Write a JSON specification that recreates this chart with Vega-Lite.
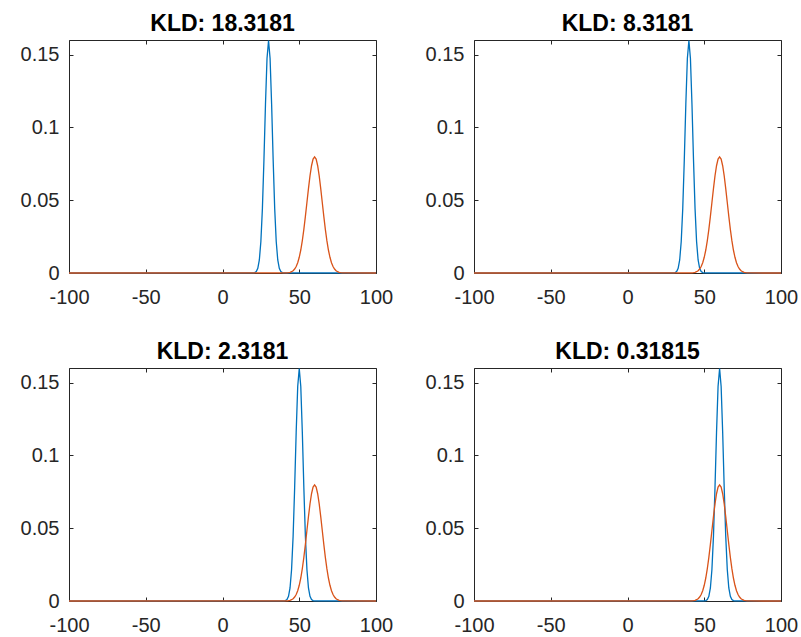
{
  "$schema": "https://vega.github.io/schema/vega-lite/v6.json",
  "background": "white",
  "padding": {"left": 19, "top": 12, "right": 0, "bottom": 0},
  "autosize": {"type": "pad"},
  "bounds": "flush",
  "columns": 2,
  "spacing": {"row": 95, "column": 98},
  "datasets": {
    "orange": [
      {"x": -100, "y": 0},
      {"x": 40, "y": 0.000027}, {"x": 41, "y": 0.000058}, {"x": 42, "y": 0.000122}, {"x": 43, "y": 0.000246},
      {"x": 44, "y": 0.000477}, {"x": 45, "y": 0.000886}, {"x": 46, "y": 0.001583}, {"x": 47, "y": 0.002717},
      {"x": 48, "y": 0.004479}, {"x": 49, "y": 0.007095}, {"x": 50, "y": 0.010798}, {"x": 51, "y": 0.015790},
      {"x": 52, "y": 0.022184}, {"x": 53, "y": 0.029945}, {"x": 54, "y": 0.038837}, {"x": 55, "y": 0.048394},
      {"x": 56, "y": 0.057938}, {"x": 57, "y": 0.066645}, {"x": 58, "y": 0.073654}, {"x": 59, "y": 0.078209},
      {"x": 60, "y": 0.079788},
      {"x": 61, "y": 0.078209}, {"x": 62, "y": 0.073654}, {"x": 63, "y": 0.066645}, {"x": 64, "y": 0.057938},
      {"x": 65, "y": 0.048394}, {"x": 66, "y": 0.038837}, {"x": 67, "y": 0.029945}, {"x": 68, "y": 0.022184},
      {"x": 69, "y": 0.015790}, {"x": 70, "y": 0.010798}, {"x": 71, "y": 0.007095}, {"x": 72, "y": 0.004479},
      {"x": 73, "y": 0.002717}, {"x": 74, "y": 0.001583}, {"x": 75, "y": 0.000886}, {"x": 76, "y": 0.000477},
      {"x": 77, "y": 0.000246}, {"x": 78, "y": 0.000122}, {"x": 79, "y": 0.000058}, {"x": 80, "y": 0.000027},
      {"x": 100, "y": 0}
    ],
    "b30": [
      {"x": -100, "y": 0},
      {"x": 20, "y": 0.000053}, {"x": 21, "y": 0.000245}, {"x": 22, "y": 0.000954}, {"x": 23, "y": 0.003166},
      {"x": 24, "y": 0.008958}, {"x": 25, "y": 0.021596}, {"x": 26, "y": 0.044368}, {"x": 27, "y": 0.077674},
      {"x": 28, "y": 0.115877}, {"x": 29, "y": 0.147308}, {"x": 30, "y": 0.159577}, {"x": 31, "y": 0.147308},
      {"x": 32, "y": 0.115877}, {"x": 33, "y": 0.077674}, {"x": 34, "y": 0.044368}, {"x": 35, "y": 0.021596},
      {"x": 36, "y": 0.008958}, {"x": 37, "y": 0.003166}, {"x": 38, "y": 0.000954}, {"x": 39, "y": 0.000245},
      {"x": 40, "y": 0.000053},
      {"x": 100, "y": 0}
    ],
    "b40": [
      {"x": -100, "y": 0},
      {"x": 30, "y": 0.000053}, {"x": 31, "y": 0.000245}, {"x": 32, "y": 0.000954}, {"x": 33, "y": 0.003166},
      {"x": 34, "y": 0.008958}, {"x": 35, "y": 0.021596}, {"x": 36, "y": 0.044368}, {"x": 37, "y": 0.077674},
      {"x": 38, "y": 0.115877}, {"x": 39, "y": 0.147308}, {"x": 40, "y": 0.159577}, {"x": 41, "y": 0.147308},
      {"x": 42, "y": 0.115877}, {"x": 43, "y": 0.077674}, {"x": 44, "y": 0.044368}, {"x": 45, "y": 0.021596},
      {"x": 46, "y": 0.008958}, {"x": 47, "y": 0.003166}, {"x": 48, "y": 0.000954}, {"x": 49, "y": 0.000245},
      {"x": 50, "y": 0.000053},
      {"x": 100, "y": 0}
    ],
    "b50": [
      {"x": -100, "y": 0},
      {"x": 40, "y": 0.000053}, {"x": 41, "y": 0.000245}, {"x": 42, "y": 0.000954}, {"x": 43, "y": 0.003166},
      {"x": 44, "y": 0.008958}, {"x": 45, "y": 0.021596}, {"x": 46, "y": 0.044368}, {"x": 47, "y": 0.077674},
      {"x": 48, "y": 0.115877}, {"x": 49, "y": 0.147308}, {"x": 50, "y": 0.159577}, {"x": 51, "y": 0.147308},
      {"x": 52, "y": 0.115877}, {"x": 53, "y": 0.077674}, {"x": 54, "y": 0.044368}, {"x": 55, "y": 0.021596},
      {"x": 56, "y": 0.008958}, {"x": 57, "y": 0.003166}, {"x": 58, "y": 0.000954}, {"x": 59, "y": 0.000245},
      {"x": 60, "y": 0.000053},
      {"x": 100, "y": 0}
    ],
    "b60": [
      {"x": -100, "y": 0},
      {"x": 50, "y": 0.000053}, {"x": 51, "y": 0.000245}, {"x": 52, "y": 0.000954}, {"x": 53, "y": 0.003166},
      {"x": 54, "y": 0.008958}, {"x": 55, "y": 0.021596}, {"x": 56, "y": 0.044368}, {"x": 57, "y": 0.077674},
      {"x": 58, "y": 0.115877}, {"x": 59, "y": 0.147308}, {"x": 60, "y": 0.159577}, {"x": 61, "y": 0.147308},
      {"x": 62, "y": 0.115877}, {"x": 63, "y": 0.077674}, {"x": 64, "y": 0.044368}, {"x": 65, "y": 0.021596},
      {"x": 66, "y": 0.008958}, {"x": 67, "y": 0.003166}, {"x": 68, "y": 0.000954}, {"x": 69, "y": 0.000245},
      {"x": 70, "y": 0.000053},
      {"x": 100, "y": 0}
    ]
  },
  "concat": [
    {
      "width": 307, "height": 233,
      "title": {"text": "KLD: 18.3181"},
      "resolve": {"axis": {"x": "independent", "y": "independent"}},
      "layer": [
        {"data": {"name": "b30"}, "mark": {"type": "line", "color": "#0072BD", "strokeWidth": 1.3},
         "encoding": {
           "x": {"field": "x", "type": "quantitative", "scale": {"domain": [-100, 100], "nice": false, "zero": false}, "axis": {"orient": "bottom", "values": [-100, -50, 0, 50, 100], "labelExpr": "'' + datum.value", "title": null}},
           "y": {"field": "y", "type": "quantitative", "scale": {"domain": [0, 0.16], "nice": false}, "axis": {"orient": "left", "values": [0, 0.05, 0.1, 0.15], "labelExpr": "'' + datum.value", "title": null}}}},
        {"data": {"name": "orange"}, "mark": {"type": "line", "color": "#D95319", "strokeWidth": 1.3},
         "encoding": {
           "x": {"field": "x", "type": "quantitative", "axis": {"orient": "top", "values": [-100, -50, 0, 50, 100], "labels": false, "title": null}},
           "y": {"field": "y", "type": "quantitative", "axis": {"orient": "right", "values": [0, 0.05, 0.1, 0.15], "labels": false, "title": null}}}}
      ]
    },
    {
      "width": 307, "height": 233,
      "title": {"text": "KLD: 8.3181"},
      "resolve": {"axis": {"x": "independent", "y": "independent"}},
      "layer": [
        {"data": {"name": "b40"}, "mark": {"type": "line", "color": "#0072BD", "strokeWidth": 1.3},
         "encoding": {
           "x": {"field": "x", "type": "quantitative", "scale": {"domain": [-100, 100], "nice": false, "zero": false}, "axis": {"orient": "bottom", "values": [-100, -50, 0, 50, 100], "labelExpr": "'' + datum.value", "title": null}},
           "y": {"field": "y", "type": "quantitative", "scale": {"domain": [0, 0.16], "nice": false}, "axis": {"orient": "left", "values": [0, 0.05, 0.1, 0.15], "labelExpr": "'' + datum.value", "title": null}}}},
        {"data": {"name": "orange"}, "mark": {"type": "line", "color": "#D95319", "strokeWidth": 1.3},
         "encoding": {
           "x": {"field": "x", "type": "quantitative", "axis": {"orient": "top", "values": [-100, -50, 0, 50, 100], "labels": false, "title": null}},
           "y": {"field": "y", "type": "quantitative", "axis": {"orient": "right", "values": [0, 0.05, 0.1, 0.15], "labels": false, "title": null}}}}
      ]
    },
    {
      "width": 307, "height": 233,
      "title": {"text": "KLD: 2.3181"},
      "resolve": {"axis": {"x": "independent", "y": "independent"}},
      "layer": [
        {"data": {"name": "b50"}, "mark": {"type": "line", "color": "#0072BD", "strokeWidth": 1.3},
         "encoding": {
           "x": {"field": "x", "type": "quantitative", "scale": {"domain": [-100, 100], "nice": false, "zero": false}, "axis": {"orient": "bottom", "values": [-100, -50, 0, 50, 100], "labelExpr": "'' + datum.value", "title": null}},
           "y": {"field": "y", "type": "quantitative", "scale": {"domain": [0, 0.16], "nice": false}, "axis": {"orient": "left", "values": [0, 0.05, 0.1, 0.15], "labelExpr": "'' + datum.value", "title": null}}}},
        {"data": {"name": "orange"}, "mark": {"type": "line", "color": "#D95319", "strokeWidth": 1.3},
         "encoding": {
           "x": {"field": "x", "type": "quantitative", "axis": {"orient": "top", "values": [-100, -50, 0, 50, 100], "labels": false, "title": null}},
           "y": {"field": "y", "type": "quantitative", "axis": {"orient": "right", "values": [0, 0.05, 0.1, 0.15], "labels": false, "title": null}}}}
      ]
    },
    {
      "width": 307, "height": 233,
      "title": {"text": "KLD: 0.31815"},
      "resolve": {"axis": {"x": "independent", "y": "independent"}},
      "layer": [
        {"data": {"name": "b60"}, "mark": {"type": "line", "color": "#0072BD", "strokeWidth": 1.3},
         "encoding": {
           "x": {"field": "x", "type": "quantitative", "scale": {"domain": [-100, 100], "nice": false, "zero": false}, "axis": {"orient": "bottom", "values": [-100, -50, 0, 50, 100], "labelExpr": "'' + datum.value", "title": null}},
           "y": {"field": "y", "type": "quantitative", "scale": {"domain": [0, 0.16], "nice": false}, "axis": {"orient": "left", "values": [0, 0.05, 0.1, 0.15], "labelExpr": "'' + datum.value", "title": null}}}},
        {"data": {"name": "orange"}, "mark": {"type": "line", "color": "#D95319", "strokeWidth": 1.3},
         "encoding": {
           "x": {"field": "x", "type": "quantitative", "axis": {"orient": "top", "values": [-100, -50, 0, 50, 100], "labels": false, "title": null}},
           "y": {"field": "y", "type": "quantitative", "axis": {"orient": "right", "values": [0, 0.05, 0.1, 0.15], "labels": false, "title": null}}}}
      ]
    }
  ],
  "config": {
    "view": {"stroke": "#262626", "strokeWidth": 1},
    "axis": {
      "domain": false, "grid": false, "tickSize": -4, "tickColor": "#262626", "tickWidth": 1,
      "labelFont": "Liberation Sans", "labelFontSize": 20, "labelColor": "#262626", "labelFlush": false, "labelOverlap": false
    },
    "axisBottom": {"labelPadding": 18},
    "axisLeft": {"labelPadding": 14},
    "title": {"font": "Liberation Sans", "fontSize": 23, "fontWeight": "bold", "color": "#000000", "anchor": "middle", "baseline": "alphabetic", "offset": 2}
  }
}
